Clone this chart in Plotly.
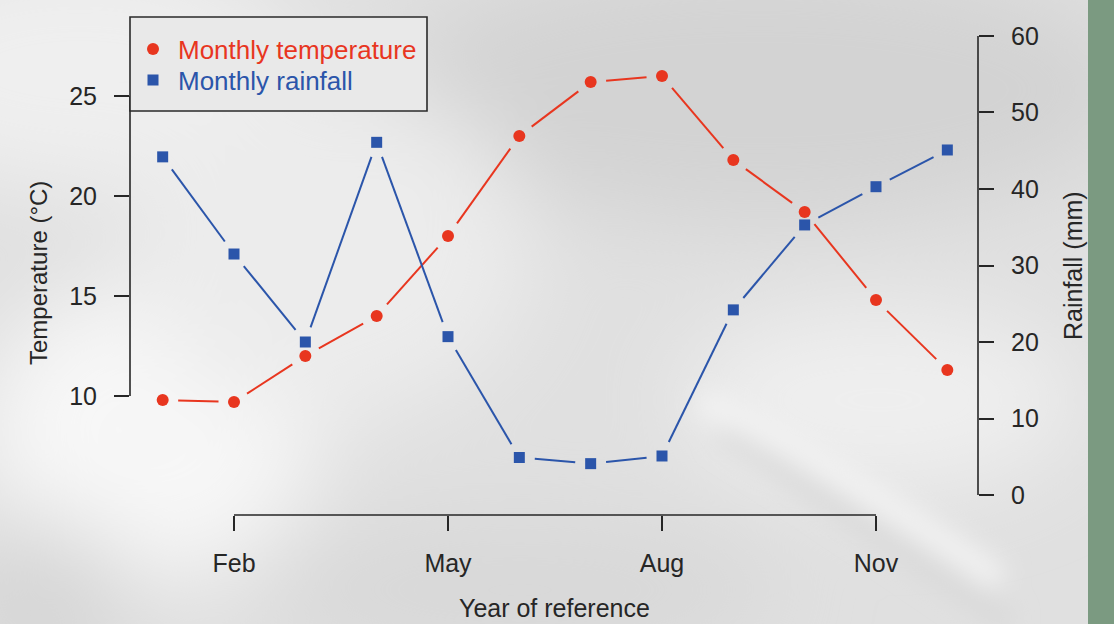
import base64
import plotly.graph_objects as go

# ---- data -------------------------------------------------------------
months = list(range(1, 13))
temperature = [9.8, 9.7, 12.0, 14.0, 18.0, 23.0, 25.7, 26.0, 21.8, 19.2, 14.8, 11.3]
rainfall = [44.2, 31.5, 20.0, 46.1, 20.7, 4.9, 4.1, 5.1, 24.2, 35.3, 40.3, 45.1]
month_ticks = [2, 5, 8, 11]
month_labels = ["Feb", "May", "Aug", "Nov"]
temp_ticks = [10, 15, 20, 25]
rain_ticks = [0, 10, 20, 30, 40, 50, 60]

# ---- page and plot box (pixels) ----------------------------------------
W, H = 1114, 624
PL, PR, PT, PB = 130, 978, 20, 515
PW, PH = PR - PL, PB - PT

X_RANGE = [0.542, 12.43]
T_RANGE = [4.05, 28.8]
R_RANGE = [-2.614, 62.09]

RED = "#E8361F"
BLUE = "#2B55AA"
INK = "#262626"
FONT = "Liberation Sans, Arial, sans-serif"


def px_x(p):
    return (p - PL) / PW


def px_y(p):
    return (PB - p) / PH


def trimmed_segments(xs, ys, yr, gap):
    """Segments between consecutive points, each shortened by `gap` pixels
    at both ends (base-graphics type='b' look)."""
    def to_px(x, y):
        px = PL + (x - X_RANGE[0]) / (X_RANGE[1] - X_RANGE[0]) * PW
        py = PB - (y - yr[0]) / (yr[1] - yr[0]) * PH
        return px, py

    def to_data(px, py):
        x = X_RANGE[0] + (px - PL) / PW * (X_RANGE[1] - X_RANGE[0])
        y = yr[0] + (PB - py) / PH * (yr[1] - yr[0])
        return x, y

    segs = []
    for i in range(len(xs) - 1):
        ax, ay = to_px(xs[i], ys[i])
        bx, by = to_px(xs[i + 1], ys[i + 1])
        dx, dy = bx - ax, by - ay
        L = (dx * dx + dy * dy) ** 0.5
        if L <= 2 * gap:
            continue
        ux, uy = dx / L, dy / L
        s = to_data(ax + ux * gap, ay + uy * gap)
        e = to_data(bx - ux * gap, by - uy * gap)
        segs.append(([s[0], e[0]], [s[1], e[1]]))
    return segs


# ---- soft grey backdrop -------------------------------------------------
svg = f"""<svg xmlns='http://www.w3.org/2000/svg' width='{W}' height='{H}' viewBox='0 0 {W} {H}'>
<defs>
<filter id='b' x='-50%' y='-50%' width='200%' height='200%'><feGaussianBlur stdDeviation='45'/></filter>
<filter id='s' x='-50%' y='-50%' width='200%' height='200%'><feGaussianBlur stdDeviation='12'/></filter>
</defs>
<rect width='{W}' height='{H}' fill='#e0e0e0'/>
<g filter='url(#b)'>
<ellipse cx='80' cy='70' rx='220' ry='120' fill='#efefef'/>
<ellipse cx='760' cy='90' rx='380' ry='130' fill='#d3d3d3'/>
<ellipse cx='150' cy='430' rx='170' ry='150' fill='#f7f7f7'/>
<ellipse cx='330' cy='250' rx='200' ry='170' fill='#ececec'/>
<ellipse cx='520' cy='590' rx='260' ry='70' fill='#d8d8d8'/>
<ellipse cx='880' cy='400' rx='200' ry='90' fill='#efefef'/>
<ellipse cx='40' cy='600' rx='90' ry='80' fill='#d6d6d6'/>
</g>
<g filter='url(#s)'>
<path d='M720 430 Q860 520 1010 624' stroke='#d9d9d9' stroke-width='22' fill='none'/>
<path d='M700 400 Q840 470 1000 580' stroke='#f2f2f2' stroke-width='26' fill='none'/>
</g>
</svg>"""
bg_uri = "data:image/svg+xml;base64," + base64.b64encode(svg.encode()).decode()

fig = go.Figure()

GAP = 15.5

# connecting lines, one short trace per gap-trimmed segment
for sx, sy in trimmed_segments(months, temperature, T_RANGE, GAP):
    fig.add_trace(go.Scatter(x=sx, y=sy, mode="lines", line=dict(color=RED, width=2),
                             showlegend=False, hoverinfo="skip"))
for sx, sy in trimmed_segments(months, rainfall, R_RANGE, GAP):
    fig.add_trace(go.Scatter(x=sx, y=sy, mode="lines", yaxis="y2",
                             line=dict(color=BLUE, width=2),
                             showlegend=False, hoverinfo="skip"))

# point markers
fig.add_trace(go.Scatter(x=months, y=temperature, mode="markers",
                         name=f"<span style='color:{RED}'>Monthly temperature</span>",
                         legend="legend",
                         marker=dict(symbol="circle", size=12, color=RED)))
fig.add_trace(go.Scatter(x=months, y=rainfall, mode="markers", yaxis="y2",
                         name=f"<span style='color:{BLUE}'>Monthly rainfall</span>",
                         legend="legend2",
                         marker=dict(symbol="square", size=11, color=BLUE)))

tick_font = dict(family=FONT, size=25, color=INK)
legend_common = dict(xanchor="left", yanchor="middle", bgcolor="rgba(0,0,0,0)",
                     borderwidth=0, font=dict(family=FONT, size=26, color=INK),
                     itemwidth=40)

fig.update_layout(
    width=W, height=H,
    margin=dict(l=PL, r=W - PR, t=PT, b=H - PB, autoexpand=False),
    paper_bgcolor="#e0e0e0",
    plot_bgcolor="rgba(0,0,0,0)",
    font=dict(family=FONT, color=INK),
    xaxis=dict(range=X_RANGE, tickvals=month_ticks, ticktext=month_labels,
               showgrid=False, zeroline=False, showline=False,
               ticks="outside", ticklen=15, tickwidth=1.6, tickcolor=INK,
               tickfont=tick_font, ticklabelstandoff=11),
    yaxis=dict(range=T_RANGE, tickvals=temp_ticks, showgrid=False, zeroline=False,
               showline=False, ticks="outside", ticklen=15, tickwidth=1.6, tickcolor=INK,
               tickfont=tick_font, ticklabelstandoff=12),
    yaxis2=dict(range=R_RANGE, tickvals=rain_ticks, overlaying="y", side="right",
                showgrid=False, zeroline=False, showline=False,
                ticks="outside", ticklen=15, tickwidth=1.6, tickcolor=INK,
                tickfont=tick_font, ticklabelstandoff=12),
    legend=dict(x=px_x(128), y=px_y(49), **legend_common),
    legend2=dict(x=px_x(128), y=px_y(80), **legend_common),
    images=[dict(source=bg_uri, xref="paper", yref="paper",
                 x=px_x(0), y=px_y(0), sizex=W / PW, sizey=H / PH,
                 xanchor="left", yanchor="top", sizing="stretch", layer="below")],
    shapes=[
        # axis spines spanning the tick range only
        dict(type="line", xref="x", yref="paper", x0=month_ticks[0], x1=month_ticks[-1],
             y0=0, y1=0, line=dict(color=INK, width=1.6)),
        dict(type="line", xref="paper", yref="y", x0=0, x1=0,
             y0=temp_ticks[0], y1=temp_ticks[-1], line=dict(color=INK, width=1.6)),
        dict(type="line", xref="paper", yref="y2", x0=1, x1=1,
             y0=rain_ticks[0], y1=rain_ticks[-1], line=dict(color=INK, width=1.6)),
        # legend frame
        dict(type="rect", xref="paper", yref="paper",
             x0=px_x(130), x1=px_x(427), y0=px_y(111), y1=px_y(17),
             line=dict(color="#2a2a2a", width=1.6), fillcolor="#e9e9e9", layer="above"),
        # green strip at the right edge
        dict(type="rect", xref="paper", yref="paper", x0=px_x(1088), x1=px_x(W + 5),
             y0=px_y(H + 5), y1=px_y(-5), line=dict(width=0),
             fillcolor="#7b9a81", layer="above"),
    ],
    annotations=[
        dict(text="Temperature (°C)", xref="paper", yref="paper", x=px_x(38), y=px_y(273),
             xanchor="center", yanchor="middle", textangle=-90, showarrow=False,
             font=dict(family=FONT, size=24, color=INK)),
        dict(text="Rainfall (mm)", xref="paper", yref="paper", x=px_x(1073), y=px_y(266),
             xanchor="center", yanchor="middle", textangle=-90, showarrow=False,
             font=dict(family=FONT, size=25, color=INK)),
        dict(text="Year of reference", xref="paper", yref="paper", x=0.5, y=px_y(608),
             xanchor="center", yanchor="middle", showarrow=False,
             font=dict(family=FONT, size=25, color=INK)),
    ],
)

fig.write_html("out.html")
